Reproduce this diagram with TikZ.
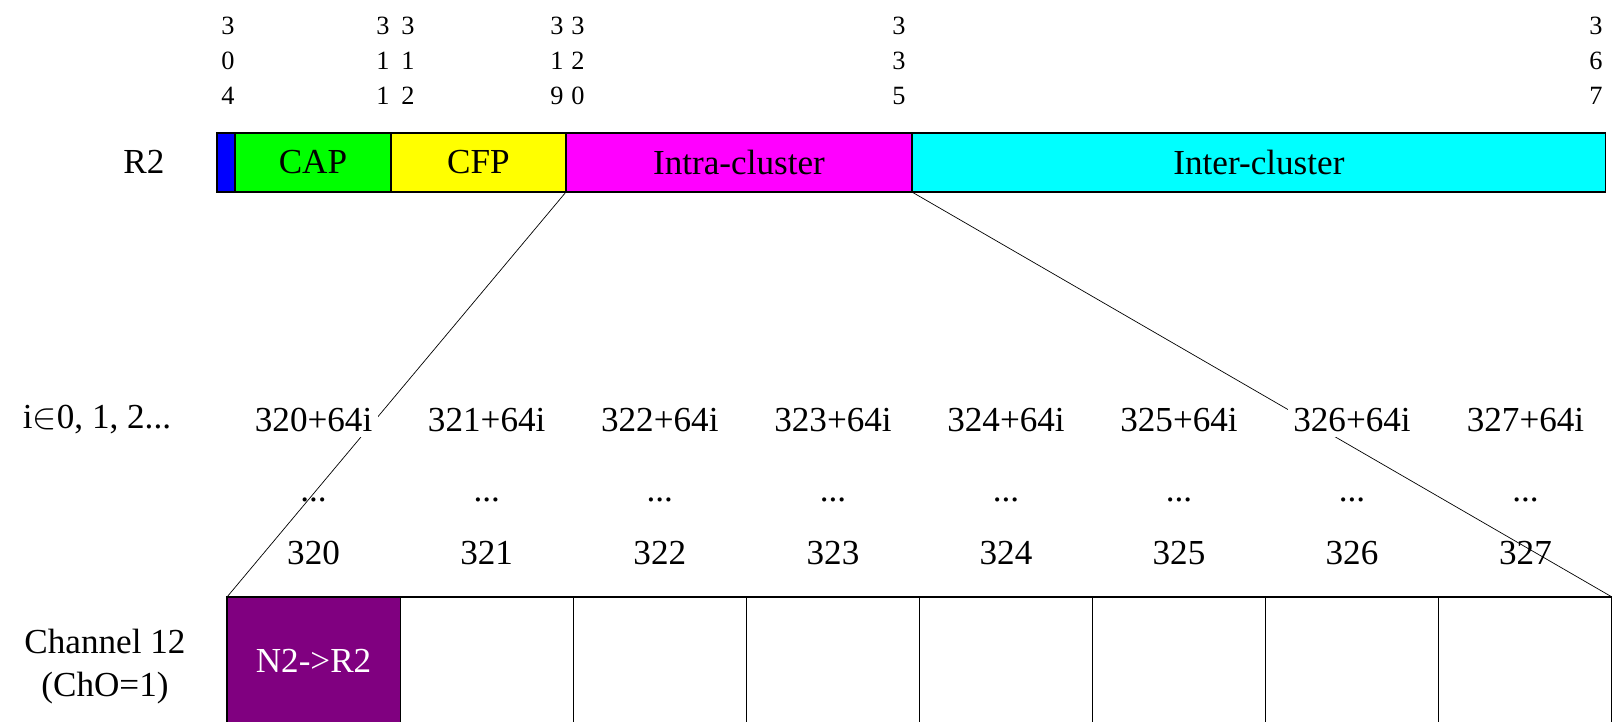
\documentclass[tikz,border=0pt]{standalone}
\usepackage{fontspec}
\setmainfont{Liberation Serif}
\definecolor{chpurple}{RGB}{128,0,128}
\definecolor{segblue}{RGB}{0,0,255}
\definecolor{seggreen}{RGB}{0,255,0}
\definecolor{segyellow}{RGB}{255,255,0}
\definecolor{segmagenta}{RGB}{255,0,255}
\definecolor{segcyan}{RGB}{0,255,255}
\tikzset{
  seg/.style={draw, line width=.6pt, inner sep=0pt, outer sep=0pt, minimum height=1.18cm, anchor=north west, font=\fontsize{20}{24}\selectfont},
  slot/.style={draw, line width=.6pt, inner sep=0pt, outer sep=0pt, minimum width=3.4625cm, minimum height=2.56cm, anchor=north west},
  tick/.style={align=center, inner sep=0pt, font=\fontsize{15}{19.9}\selectfont},
  lbl/.style={font=\fontsize{20}{24.5}\selectfont},
  idx/.style={lbl, fill=white, inner sep=3pt},
}
\begin{document}
\begin{tikzpicture}[x=.02cm, y=-.02cm]
\useasboundingbox (0,0) rectangle (1612,721);
\clip (0,0) rectangle (1612,721);

% superframe of R2
\node[seg, fill=segblue, minimum width=.36cm] (bcn) at (217,133) {};
\node[seg, fill=seggreen, minimum width=3.12cm] (cap) at (235,133) {CAP};
\node[seg, fill=segyellow, minimum width=3.5cm] (cfp) at (391,133) {CFP};
\node[seg, fill=segmagenta, minimum width=6.92cm] (intra) at (566,133) {Intra-cluster};
\node[seg, fill=segcyan, minimum width=13.88cm] (inter) at (912,133) {Inter-cluster};

\node[tick] (t304) at (228,61) {3\\0\\4};
\node[tick] (t311) at (383,61) {3\\1\\1};
\node[tick] (t312) at (408,61) {3\\1\\2};
\node[tick] (t319) at (557,61) {3\\1\\9};
\node[tick] (t320) at (578,61) {3\\2\\0};
\node[tick] (t335) at (899,61) {3\\3\\5};
\node[tick] (t367) at (1596,61) {3\\6\\7};
\node[lbl] (rtwo) at (144,162) {R2};

% slots of channel 12
\node[slot, fill=chpurple, text=white, font=\fontsize{20}{24}\selectfont] (s0) at (227,597) {N2->R2};
\node[slot] (s1) at (400.1,597) {};
\node[slot] (s2) at (573.3,597) {};
\node[slot] (s3) at (746.4,597) {};
\node[slot] (s4) at (919.5,597) {};
\node[slot] (s5) at (1092.6,597) {};
\node[slot] (s6) at (1265.8,597) {};
\node[slot] (s7) at (1438.9,597) {};

\draw [line width=.4pt] (intra.south west) -- (s0.north west);
\draw [line width=.4pt] (intra.south east) -- (s7.north east);

\node[lbl] (irange) at (97,420) {i$\in$0, 1, 2...};
\node[idx] (i0) at (313.6,420) {320+64i};
\node[idx] (i1) at (486.7,420) {321+64i};
\node[idx] (i2) at (659.8,420) {322+64i};
\node[idx] (i3) at (833,420) {323+64i};
\node[idx] (i4) at (1006,420) {324+64i};
\node[idx] (i5) at (1179,420) {325+64i};
\node[idx] (i6) at (1352,420) {326+64i};
\node[idx] (i7) at (1525.5,420) {327+64i};

\node[lbl] (d0) at (313.6,500) {...};
\node[lbl] (d1) at (486.7,500) {...};
\node[lbl] (d2) at (659.8,500) {...};
\node[lbl] (d3) at (833,500) {...};
\node[lbl] (d4) at (1006,500) {...};
\node[lbl] (d5) at (1179,500) {...};
\node[lbl] (d6) at (1352,500) {...};
\node[lbl] (d7) at (1525.5,500) {...};

\node[lbl] (n0) at (313.6,553) {320};
\node[lbl] (n1) at (486.7,553) {321};
\node[lbl] (n2) at (659.8,553) {322};
\node[lbl] (n3) at (833,553) {323};
\node[lbl] (n4) at (1006,553) {324};
\node[lbl] (n5) at (1179,553) {325};
\node[lbl] (n6) at (1352,553) {326};
\node[lbl] (n7) at (1525.5,553) {327};

\node[lbl, align=center] (chan) at (105,667) {Channel 12\\(ChO=1)};
\end{tikzpicture}
\end{document}
